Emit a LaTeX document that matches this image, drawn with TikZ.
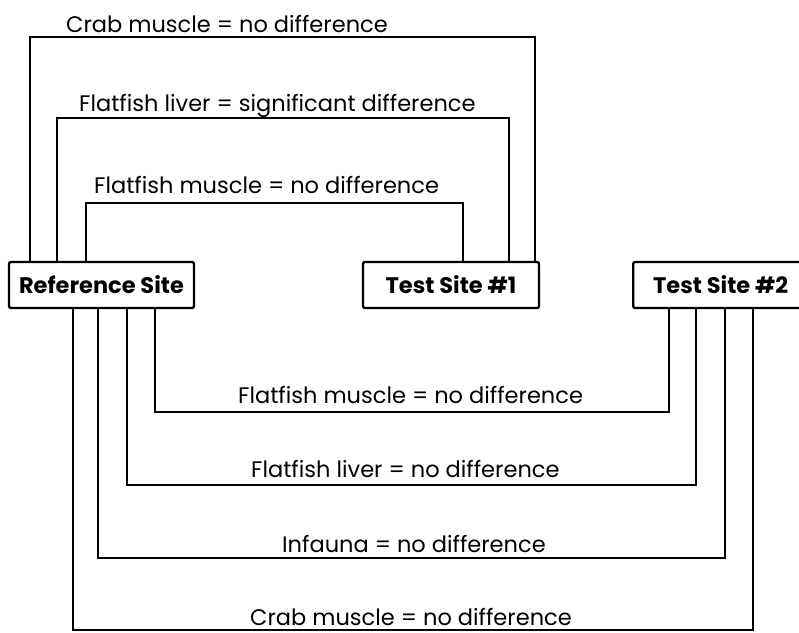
\documentclass[tikz,border=0pt]{standalone}
\usepackage{fontspec}
\setmainfont{Poppins}
\usetikzlibrary{positioning,calc}

\begin{document}
\begin{tikzpicture}[x=1pt,y=-1pt,
		site/.style={draw, line width=2.4pt, rounded corners=2pt, minimum height=46pt, inner sep=0pt, font=\fontsize{22.5}{24}\selectfont\bfseries},
		link/.style={line width=2.6pt},
		lab/.style={anchor=base west, inner sep=0pt, font=\fontsize{22.5}{24}\selectfont}
		]
		
		\clip (0,0) rectangle (799,632);
		
		% --------------------------------------------------------------------
		% sites
		% --------------------------------------------------------------------
		\node[site, minimum width=185pt] (ref) at (101.5,285) {Reference Site};
		\node[site, minimum width=176pt] (ts1) at (451,285) {Test Site \#1};
		\node[site, minimum width=175pt, anchor=west] (ts2) at (632,285) {Test Site \#2};
		
		% coordinates (upper links)
		\coordinate (u1a) at (30,37);  \coordinate (u1b) at (535,37);
		\coordinate (u2a) at (57,118); \coordinate (u2b) at (509,118);
		\coordinate (u3a) at (86,203); \coordinate (u3b) at (463,203);
		
		% coordinates (lower links)
		\coordinate (d1a) at (155,412); \coordinate (d1b) at (669,412);
		\coordinate (d2a) at (127,485); \coordinate (d2b) at (696,485);
		\coordinate (d3a) at (98,558);  \coordinate (d3b) at (725,558);
		\coordinate (d4a) at (73,630);  \coordinate (d4b) at (753,630);
		
		% TOP: reference site vs test site 1
		\draw[link] (ref.north -| u1a) -- (u1a) -- (u1b) -- (ts1.north -| u1b);
		\draw[link] (ref.north -| u2a) -- (u2a) -- (u2b) -- (ts1.north -| u2b);
		\draw[link] (ref.north -| u3a) -- (u3a) -- (u3b) -- (ts1.north -| u3b);
		
		\node[lab] (lu1) at (66,32) {Crab muscle = no difference};
		\node[lab] (lu2) at (79,111) {Flatfish liver = significant difference};
		\node[lab] (lu3) at (94,193) {Flatfish muscle = no difference};
		
		% BOTTOM: reference site vs test site 2
		\draw[link] (ref.south -| d1a) -- (d1a) -- (d1b) -- (ts2.south -| d1b);
		\draw[link] (ref.south -| d2a) -- (d2a) -- (d2b) -- (ts2.south -| d2b);
		\draw[link] (ref.south -| d3a) -- (d3a) -- (d3b) -- (ts2.south -| d3b);
		\draw[link] (ref.south -| d4a) -- (d4a) -- (d4b) -- (ts2.south -| d4b);
		
		\node[lab] (ld1) at (238,403) {Flatfish muscle = no difference};
		\node[lab] (ld2) at (251,477) {Flatfish liver = no difference};
		\node[lab] (ld3) at (282,552) {Infauna = no difference};
		\node[lab] (ld4) at (250,625) {Crab muscle = no difference};
		
	\end{tikzpicture}
\end{document}
